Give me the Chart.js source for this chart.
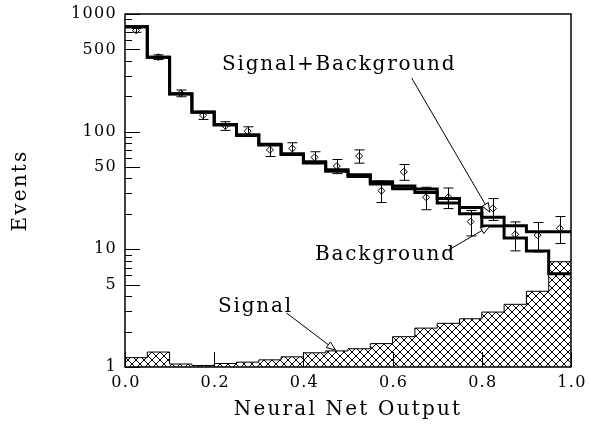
<!DOCTYPE html>
<html>
<head>
<meta charset="utf-8">
<script src="https://cdn.jsdelivr.net/npm/chart.js@4.4.1/dist/chart.umd.min.js"></script>
<style>
  html, body { margin: 0; padding: 0; background: #fff; }
  canvas { display: block; }
</style>
</head>
<body>
<canvas id="nnChart" width="589" height="426"></canvas>
<script>
// histogram binning of the network output
const binEdges = [0.0, 0.05, 0.1, 0.15, 0.2, 0.25, 0.3, 0.35, 0.4, 0.45, 0.5,
                  0.55, 0.6, 0.65, 0.7, 0.75, 0.8, 0.85, 0.9, 0.95, 1.0];
const binCenters = [0.025, 0.075, 0.125, 0.175, 0.225, 0.275, 0.325, 0.375, 0.425, 0.475,
                    0.525, 0.575, 0.625, 0.675, 0.725, 0.775, 0.825, 0.875, 0.925, 0.975];

// expected events per bin
const signalPlusBackground = [780, 430, 210, 147, 115, 94, 78, 65, 55.5, 47.5,
                              43, 37.5, 34.5, 32.5, 27.1, 22.7, 18.7, 15.9, 14.1, 14.1];
const background = [779, 429, 209, 146, 114, 93, 77, 64, 54.2, 46.1,
                    41.5, 35.9, 32.7, 30.4, 24.8, 20.1, 15.8, 12.5, 9.7, 6.2];
const signal = [1.2, 1.34, 1.06, 1.03, 1.07, 1.1, 1.15, 1.22, 1.32, 1.37,
                1.43, 1.58, 1.81, 2.14, 2.35, 2.57, 2.93, 3.41, 4.4, 7.85];

// observed data with errors
const dataValues = [726, 430, 212, 138, 112, 101, 70, 72, 60.5, 51,
                    62, 31.5, 45.6, 27.7, 27.7, 17.2, 22.3, 13.4, 13.2, 15.1];
const dataErrors = [27, 20, 14, 11, 9.5, 9, 8.5, 8.5, 7, 7,
                    8, 6.5, 7, 6, 5.5, 4.2, 4.7, 3.7, 3.7, 3.9];

// axis ticks
const xTicks = [0.0, 0.2, 0.4, 0.6, 0.8, 1.0];
const xTickLabels = ['0.0', '0.2', '0.4', '0.6', '0.8', '1.0'];
const yTicks = [1, 5, 10, 50, 100, 500, 1000];
const yTickLabels = ['1', '5', '10', '50', '100', '500', '1000'];
const yMinorTicks = [2, 3, 4, 6, 7, 8, 9, 20, 30, 40, 60, 70, 80, 90, 200, 300, 400, 600, 700, 800, 900];

// labels with pointer lines, in data coordinates
const notes = [
  { text: 'Signal+Background', at: [0.2175, 368], from: [0.643, 285], to: [0.818, 20.7] },
  { text: 'Background', at: [0.426, 8.95], from: [0.726, 9.9], to: [0.818, 15.8] },
  { text: 'Signal', at: [0.2085, 3.24], from: [0.362, 2.88], to: [0.472, 1.39] }
];

const FONT = '"DejaVu Serif", "Liberation Serif", serif';
const canvas = document.getElementById('nnChart');
const ctx = canvas.getContext('2d');

function histPoints(values) {
  const pts = values.map((v, i) => ({ x: binEdges[i], y: v }));
  pts.push({ x: binEdges[values.length], y: values[values.length - 1] });
  return pts;
}

// crisp pixel cross-hatch tile
function crossHatch() {
  const n = 8;
  const c = document.createElement('canvas');
  c.width = n; c.height = n;
  const g = c.getContext('2d');
  g.fillStyle = '#000';
  for (let i = 0; i < n; i++) {
    g.fillRect(i, i, 1, 1);
    g.fillRect(n - 1 - i, i, 1, 1);
  }
  return ctx.createPattern(c, 'repeat');
}

function label(c, str, x, y, size, spacing, align) {
  c.font = size + 'px ' + FONT;
  c.letterSpacing = spacing + 'px';
  c.textAlign = align;
  c.textBaseline = 'middle';
  c.fillStyle = '#000';
  c.fillText(str, x, y);
}

function arrow(c, x1, y1, x2, y2) {
  c.strokeStyle = '#000';
  c.lineWidth = 1;
  c.beginPath();
  c.moveTo(x1, y1);
  c.lineTo(x2, y2);
  c.stroke();
  const a = Math.atan2(y2 - y1, x2 - x1);
  const len = 9, half = 3.5;
  const bx = x2 - len * Math.cos(a), by = y2 - len * Math.sin(a);
  c.beginPath();
  c.moveTo(x2, y2);
  c.lineTo(bx + half * Math.sin(a), by - half * Math.cos(a));
  c.lineTo(bx - half * Math.sin(a), by + half * Math.cos(a));
  c.closePath();
  c.fillStyle = '#fff';
  c.fill();
  c.stroke();
}

const errorBars = {
  id: 'errorBars',
  afterDatasetsDraw(chart) {
    const c = chart.ctx, xs = chart.scales.x, ys = chart.scales.y;
    c.save();
    c.strokeStyle = '#000';
    c.lineWidth = 1;
    dataValues.forEach((v, i) => {
      const x = Math.round(xs.getPixelForValue(binCenters[i])) + 0.5;
      const yTop = ys.getPixelForValue(v + dataErrors[i]);
      const yBot = ys.getPixelForValue(v - dataErrors[i]);
      c.beginPath();
      c.moveTo(x, yTop); c.lineTo(x, yBot);
      c.moveTo(x - 5, yTop); c.lineTo(x + 5, yTop);
      c.moveTo(x - 5, yBot); c.lineTo(x + 5, yBot);
      c.stroke();
    });
    c.restore();
  }
};

const frameAndText = {
  id: 'frameAndText',
  afterDraw(chart) {
    const c = chart.ctx, a = chart.chartArea, xs = chart.scales.x, ys = chart.scales.y;
    c.save();
    c.strokeStyle = '#000';
    c.lineWidth = 1.5;
    c.strokeRect(a.left, a.top, a.right - a.left, a.bottom - a.top);

    c.lineWidth = 1;
    c.beginPath();
    yTicks.forEach(t => {
      const y = Math.round(ys.getPixelForValue(t)) + 0.5;
      c.moveTo(a.left, y); c.lineTo(a.left + 15, y);
    });
    yMinorTicks.forEach(t => {
      const y = Math.round(ys.getPixelForValue(t)) + 0.5;
      c.moveTo(a.left, y); c.lineTo(a.left + 7, y);
    });
    xTicks.forEach(t => {
      const x = Math.round(xs.getPixelForValue(t)) + 0.5;
      c.moveTo(x, a.bottom); c.lineTo(x, a.bottom - 15);
    });
    c.stroke();

    yTicks.forEach((t, i) => label(c, yTickLabels[i], a.left - 8, ys.getPixelForValue(t), 16, 1.3, 'right'));
    xTicks.forEach((t, i) => label(c, xTickLabels[i], xs.getPixelForValue(t) + 1, a.bottom + 16, 16, 1.3, 'center'));

    label(c, 'Neural Net Output', (a.left + a.right) / 2, 410, 20, 2.2, 'center');
    c.save();
    c.translate(21, (a.top + a.bottom) / 2);
    c.rotate(-Math.PI / 2);
    label(c, 'Events', 0, 0, 20, 2.2, 'center');
    c.restore();

    notes.forEach(n => {
      label(c, n.text, xs.getPixelForValue(n.at[0]), ys.getPixelForValue(n.at[1]), 20, 1.8, 'left');
      arrow(c, xs.getPixelForValue(n.from[0]), ys.getPixelForValue(n.from[1]),
               xs.getPixelForValue(n.to[0]), ys.getPixelForValue(n.to[1]));
    });
    c.restore();
  }
};

new Chart(canvas, {
  type: 'line',
  data: {
    datasets: [
      {
        label: 'Data',
        data: dataValues.map((v, i) => ({ x: binCenters[i], y: v })),
        showLine: false,
        pointStyle: 'rectRot',
        pointRadius: 3.5,
        pointBorderWidth: 1,
        pointBorderColor: '#000',
        pointBackgroundColor: 'rgba(0,0,0,0)',
        order: 1
      },
      {
        label: 'Signal+Background',
        data: histPoints(signalPlusBackground),
        stepped: 'before',
        borderColor: '#000',
        borderWidth: 3,
        pointRadius: 0,
        fill: false,
        order: 2
      },
      {
        label: 'Background',
        data: histPoints(background),
        stepped: 'before',
        borderColor: '#000',
        borderWidth: 3,
        pointRadius: 0,
        fill: false,
        order: 3
      },
      {
        label: 'Signal',
        data: histPoints(signal),
        stepped: 'before',
        borderColor: '#000',
        borderWidth: 1,
        backgroundColor: crossHatch(),
        pointRadius: 0,
        fill: 'start',
        order: 4
      }
    ]
  },
  options: {
    responsive: false,
    animation: false,
    devicePixelRatio: 1,
    layout: { padding: { left: 125, top: 14, right: 18, bottom: 59 } },
    plugins: { legend: { display: false }, tooltip: { enabled: false } },
    scales: {
      x: { type: 'linear', min: 0, max: 1, display: false },
      y: { type: 'logarithmic', min: 1, max: 1000, display: false }
    }
  },
  plugins: [errorBars, frameAndText]
});
</script>
</body>
</html>
